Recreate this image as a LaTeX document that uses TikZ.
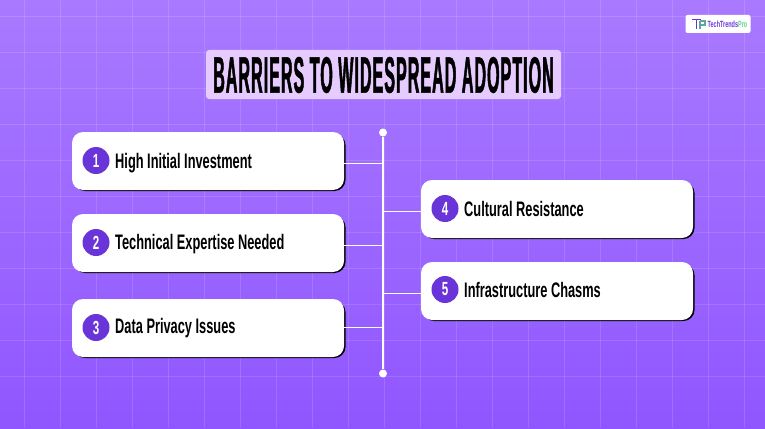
\documentclass[tikz,border=0pt]{standalone}
\usepackage{fontspec}
\usetikzlibrary{positioning}
\setmainfont{Liberation Sans}
\newfontfamily\titlefont[FakeStretch=.315,FakeBold=.9,LetterSpace=2]{Liberation Sans Bold}
\newfontfamily\cardfont[FakeStretch=.61]{Liberation Sans Bold}
\definecolor{bgtop}{HTML}{A97AFF}
\definecolor{bgbottom}{HTML}{9056FF}
\definecolor{gridline}{HTML}{FFFFFF}
\definecolor{titlefill}{HTML}{E6CBFF}
\definecolor{badgefill}{HTML}{6A35D8}
\definecolor{logopurple}{HTML}{6A35D8}
\definecolor{logogreen}{HTML}{55D98A}
\begin{document}
\begin{tikzpicture}[
    x=1pt, y=-1pt,
    card/.style={draw=none, fill=white, rounded corners=11pt, minimum width=272pt, minimum height=58pt, inner sep=0pt},
    card shadow/.style={fill=black, rounded corners=11pt},
    badge/.style={circle, fill=badgefill, text=white, minimum size=27pt, inner sep=0pt, font=\cardfont\fontsize{19}{19}\selectfont},
    card label/.style={anchor=west, inner sep=0pt, text=black, font=\cardfont\fontsize{21}{21}\selectfont},
    grid rule/.style={draw=gridline, draw opacity=.13, line width=.7pt},
    link/.style={draw=white, line width=.8pt},
    spine line/.style={draw=white, line width=1.6pt},
    end dot/.style={circle, fill=white, minimum size=8pt, inner sep=0pt},
    ]
\useasboundingbox (0,0) rectangle (765,428);
\shade[top color=bgtop, bottom color=bgbottom] (0,0) rectangle (765,428);
\foreach \x in {24,60,...,744} {\draw[grid rule] (\x,0) -- (\x,428);}
\foreach \y in {16.7,52.7,...,410} {\draw[grid rule] (0,\y) -- (765,\y);}
% logo
\node[fill=white, rounded corners=2pt, minimum width=65pt, minimum height=18pt, inner sep=0pt] (logo) at (718,24) {};
\draw[logopurple, line width=1.2pt] (692,19.5) -- (701,19.5) (696.5,19.5) -- (696.5,29);
\draw[logogreen!70!logopurple, line width=1.1pt] (700,21) -- (705,21) -- (705,25) -- (700,25) (700,21) -- (700,29);
\node[anchor=west, inner sep=0pt, font=\cardfont\fontsize{9}{9}\selectfont, text=logopurple] (logotext) at (707.5,24.5) {TechTrends\textcolor{logogreen}{Pro}};
% title
\node[fill=titlefill, rounded corners=3pt, minimum width=355pt, minimum height=49pt, inner sep=0pt] (title) at (383.5,74.5) {};
\node[inner sep=0pt, font=\titlefont\fontsize{51}{51}\selectfont, text=black] (titletext) at (383.5,75) {BARRIERS TO WIDESPREAD ADOPTION};
% spine
\node[end dot] (top) at (383,132.5) {};
\node[end dot] (bottom) at (383,373.5) {};
\draw[spine line] (top) -- (bottom);
\coordinate (j1) at (383,163.3);
\coordinate (j2) at (383,245.3);
\coordinate (j3) at (383,327.3);
\coordinate (j4) at (383,211.3);
\coordinate (j5) at (383,293.3);
% cards
\fill[card shadow] (74,134) rectangle (345.5,191);
\fill[card shadow] (74,216) rectangle (345.5,273);
\fill[card shadow] (74,301) rectangle (345.5,358);
\fill[card shadow] (423,182) rectangle (694.5,239);
\fill[card shadow] (423,264) rectangle (694.5,321);
\node[card] (c1) at (208,161) {};
\node[card] (c2) at (208,243) {};
\node[card] (c3) at (208,328) {};
\node[card] (c4) at (557,209) {};
\node[card] (c5) at (557,291) {};
\node[badge] (b1) at (96,160.5) {1};
\node[badge] (b2) at (96,242.5) {2};
\node[badge] (b3) at (96,327.5) {3};
\node[badge] (b4) at (445,208.5) {4};
\node[badge] (b5) at (445,289.5) {5};
\node[card label] (t1) at (115,163) {High Initial Investment};
\node[card label] (t2) at (115,244.5) {Technical Expertise Needed};
\node[card label] (t3) at (115,328.5) {Data Privacy Issues};
\node[card label] (t4) at (464,208.5) {Cultural Resistance};
\node[card label] (t5) at (464,289.5) {Infrastructure Chasms};
\draw[link] (c1.east |- j1) -- (j1);
\draw[link] (c2.east |- j2) -- (j2);
\draw[link] (c3.east |- j3) -- (j3);
\draw[link] (c4.west |- j4) -- (j4);
\draw[link] (c5.west |- j5) -- (j5);
\end{tikzpicture}
\end{document}
